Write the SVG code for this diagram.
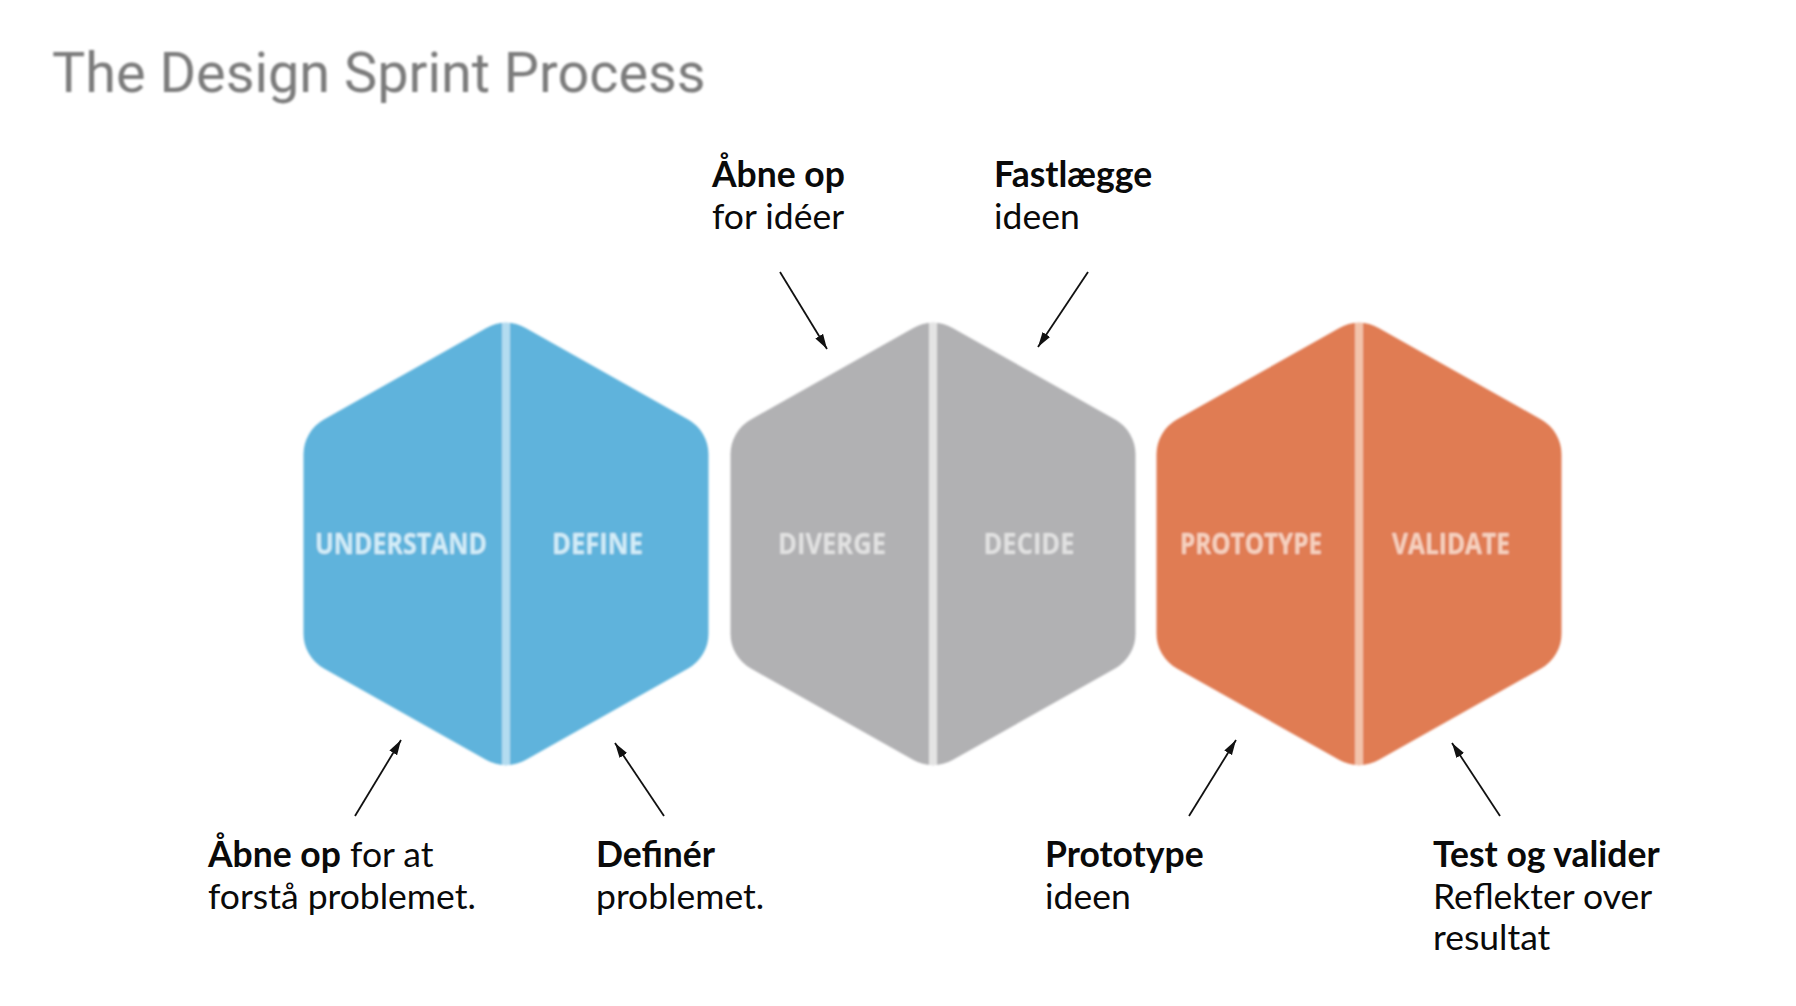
<svg xmlns="http://www.w3.org/2000/svg" xmlns:xlink="http://www.w3.org/1999/xlink" width="1796" height="1006" viewBox="0 0 1796 1006">
  <style>
    .title { font-family: Roboto, "Liberation Sans", sans-serif; font-size: 55.8px; fill: #7c7c7c; }
    .lbl { font-family: "Open Sans", "Liberation Sans", sans-serif; font-weight: 700; font-size: 28px; text-anchor: middle; }
    .ann { font-family: Lato, "Liberation Sans", sans-serif; font-size: 35.5px; fill: #0a0a0a; }
    .b { font-weight: 700; }
    .conn { stroke: #111; stroke-width: 1.8; fill: none; marker-end: url(#arrow); }
  </style>
  <defs>
    <path id="hex" d="M -19.6,-216 A 40 40 0 0 1 19.6,-216 L 182.1,-124.5 A 40 40 0 0 1 202.5,-89.6 L 202.5,89.6 A 40 40 0 0 1 182.1,124.5 L 19.6,216 A 40 40 0 0 1 -19.6,216 L -182.1,124.5 A 40 40 0 0 1 -202.5,89.6 L -202.5,-89.6 A 40 40 0 0 1 -182.1,-124.5 Z"/>
    <clipPath id="hexclip"><use xlink:href="#hex"/></clipPath>
    <filter id="soft" x="-5%" y="-5%" width="110%" height="110%"><feGaussianBlur stdDeviation="1.2"/></filter>
    <filter id="softt" x="-2%" y="-20%" width="104%" height="140%"><feGaussianBlur stdDeviation="0.9"/></filter>
    <marker id="arrow" markerUnits="userSpaceOnUse" markerWidth="16" markerHeight="12" viewBox="0 0 16 12" refX="15" refY="6" orient="auto">
      <path d="M0,1.5 L15,6 L0,10.5 Z" fill="#111"/>
    </marker>
  </defs>

  <rect width="1796" height="1006" fill="#ffffff"/>

  <text id="title" class="title" x="52" y="92" filter="url(#softt)">The Design Sprint Process</text>

  <g id="hex-understand-define" transform="translate(506,544)" filter="url(#soft)">
    <use xlink:href="#hex" fill="#5eb3dc"/>
    <rect x="-4" y="-230" width="8" height="460" fill="#b3dcf0" clip-path="url(#hexclip)"/>
    <text class="lbl" x="-105" y="9.5" fill="#d4edf8" textLength="172" lengthAdjust="spacingAndGlyphs">UNDERSTAND</text>
    <text class="lbl" x="91.5" y="9.5" fill="#d4edf8" textLength="91" lengthAdjust="spacingAndGlyphs">DEFINE</text>
  </g>

  <g id="hex-diverge-decide" transform="translate(933,544)" filter="url(#soft)">
    <use xlink:href="#hex" fill="#b1b1b3"/>
    <rect x="-4" y="-230" width="8" height="460" fill="#e4e4e4" clip-path="url(#hexclip)"/>
    <text class="lbl" x="-101" y="9.5" fill="#e2e2e2" textLength="108" lengthAdjust="spacingAndGlyphs">DIVERGE</text>
    <text class="lbl" x="96" y="9.5" fill="#e2e2e2" textLength="91" lengthAdjust="spacingAndGlyphs">DECIDE</text>
  </g>

  <g id="hex-prototype-validate" transform="translate(1359,544)" filter="url(#soft)">
    <use xlink:href="#hex" fill="#e07b53"/>
    <rect x="-4" y="-230" width="8" height="460" fill="#f3c3ab" clip-path="url(#hexclip)"/>
    <text class="lbl" x="-108" y="9.5" fill="#f6d2c0" textLength="142" lengthAdjust="spacingAndGlyphs">PROTOTYPE</text>
    <text class="lbl" x="92" y="9.5" fill="#f6d2c0" textLength="118" lengthAdjust="spacingAndGlyphs">VALIDATE</text>
  </g>

  <g id="connectors">
    <line class="conn" x1="780" y1="272" x2="827" y2="349"/>
    <line class="conn" x1="1088" y1="272" x2="1038" y2="347"/>
    <line class="conn" x1="355" y1="816" x2="401" y2="740"/>
    <line class="conn" x1="664" y1="816" x2="615" y2="743"/>
    <line class="conn" x1="1189" y1="816" x2="1236" y2="740"/>
    <line class="conn" x1="1500" y1="816" x2="1452" y2="743"/>
  </g>

  <g id="note-diverge">
    <text class="ann b" x="712" y="187">Åbne op</text>
    <text class="ann" x="712" y="228.5">for idéer</text>
  </g>
  <g id="note-decide">
    <text class="ann b" x="994" y="187">Fastlægge</text>
    <text class="ann" x="994" y="228.5">ideen</text>
  </g>
  <g id="note-understand">
    <text class="ann" x="208" y="867"><tspan class="b">Åbne op</tspan> for at</text>
    <text class="ann" x="208" y="908.5">forstå problemet.</text>
  </g>
  <g id="note-define">
    <text class="ann b" x="596" y="867">Definér</text>
    <text class="ann" x="596" y="908.5">problemet.</text>
  </g>
  <g id="note-prototype">
    <text class="ann b" x="1045" y="867">Prototype</text>
    <text class="ann" x="1045" y="908.5">ideen</text>
  </g>
  <g id="note-validate">
    <text class="ann b" x="1433" y="867">Test og valider</text>
    <text class="ann" x="1433" y="908.5">Reflekter over</text>
    <text class="ann" x="1433" y="950">resultat</text>
  </g>
</svg>
